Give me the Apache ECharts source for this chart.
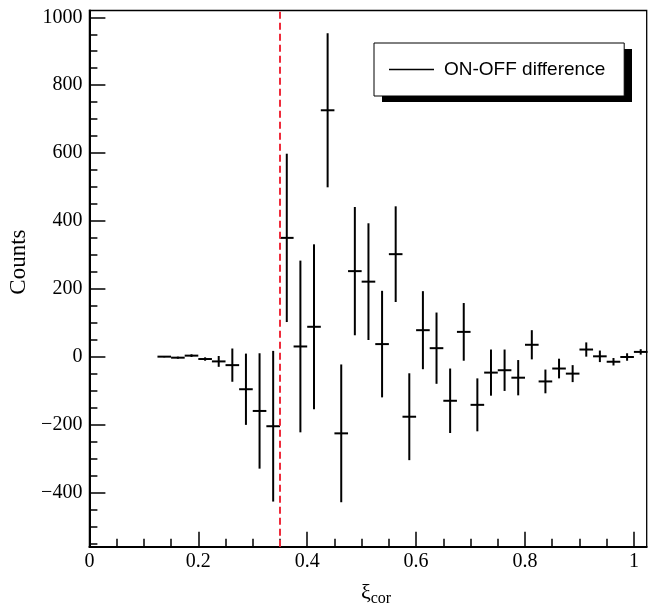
<!DOCTYPE html>
<html>
<head>
<meta charset="utf-8">
<script src="https://cdn.jsdelivr.net/npm/echarts@6/dist/echarts.min.js"></script>
<style>
  html, body { margin: 0; padding: 0; background: #fff; }
  #chart { width: 648px; height: 606px; }
</style>
</head>
<body>
<div id="chart"></div>
<script>
// bin centres (xi_cor), ON-OFF counts and their errors
const binCenters = [0.1375, 0.1625, 0.1875, 0.2125, 0.2375, 0.2625, 0.2875, 0.3125, 0.3375,
  0.3625, 0.3875, 0.4125, 0.4375, 0.4625, 0.4875, 0.5125, 0.5375, 0.5625, 0.5875, 0.6125,
  0.6375, 0.6625, 0.6875, 0.7125, 0.7375, 0.7625, 0.7875, 0.8125, 0.8375, 0.8625, 0.8875,
  0.9125, 0.9375, 0.9625, 0.9875, 1.0125]
const counts = [0, -3, 3, -7, -14, -25, -96, -160, -205, 350, 30, 88, 726, -226, 252, 221,
  37, 302, -177, 78, 25, -130, 73, -142, -47, -40, -62, 35, -73, -35, -50, 21, 1, -15, -1, 14]
const errors = [2, 3, 4, 5, 16, 49, 105, 170, 222, 248, 253, 243, 227, 203, 189, 172, 157,
  141, 128, 115, 105, 95, 85, 78, 68, 61, 52, 43, 35, 29, 25, 21, 17, 11, 11, 8]
const binWidth = 0.025
const cutValue = 0.35

const xTicks = [0, 0.2, 0.4, 0.6, 0.8, 1]
const xMinorTicks = [0.05, 0.1, 0.15, 0.25, 0.3, 0.35, 0.45, 0.5, 0.55, 0.65, 0.7, 0.75,
  0.85, 0.9, 0.95]
const yTicks = [-400, -200, 0, 200, 400, 600, 800, 1000]
const yMinorTicks = [-550, -500, -450, -350, -300, -250, -150, -100, -50, 50, 100, 150,
  250, 300, 350, 450, 500, 550, 650, 700, 750, 850, 900, 950]

const seriesName = 'ON-OFF difference'
const serif = 'Liberation Serif'

const chart = echarts.init(document.getElementById('chart'))

function renderErrorBar (params, api) {
  const x = api.value(0)
  const y = api.value(1)
  const e = api.value(2)
  const left = api.coord([x - binWidth / 2, y])
  const right = api.coord([x + binWidth / 2, y])
  const top = api.coord([x, y + e])
  const bottom = api.coord([x, y - e])
  const style = { stroke: '#000', lineWidth: 2 }
  return {
    type: 'group',
    children: [
      { type: 'line', shape: { x1: left[0], y1: left[1], x2: right[0], y2: right[1] }, style: style },
      { type: 'line', shape: { x1: top[0], y1: top[1], x2: bottom[0], y2: bottom[1] }, style: style }
    ]
  }
}

function minusSign (v) {
  return String(v).replace('-', '\u2212')
}

const option = {
  animation: false,
  backgroundColor: '#fff',
  grid: {
    left: 89.4,
    right: 1.3,
    top: 10.5,
    bottom: 59.3,
    outerBoundsMode: 'none',
    containLabel: false,
    show: true,
    borderColor: '#000',
    borderWidth: 1.3,
    backgroundColor: 'transparent'
  },
  // legend box shadow (ROOT style)
  graphic: [
    {
      type: 'rect',
      left: 382,
      top: 49,
      z: 1,
      silent: true,
      shape: { width: 250, height: 53 },
      style: { fill: '#000' }
    }
  ],
  legend: {
    left: 374,
    top: 43,
    z: 5,
    selectedMode: false,
    data: [{ name: seriesName, icon: 'rect' }],
    itemWidth: 45,
    itemHeight: 1.5,
    padding: [17, 19, 17, 15],
    backgroundColor: '#fff',
    borderColor: '#000',
    borderWidth: 1,
    textStyle: {
      fontFamily: 'Liberation Sans',
      fontSize: 19,
      color: '#000',
      padding: [0, 0, 0, 5]
    }
  },
  xAxis: [
    {
      type: 'value',
      min: 0,
      max: 1.0235,
      position: 'bottom',
      name: '{a|ξ}{b|cor}',
      nameLocation: 'middle',
      nameGap: 15,
      nameTextStyle: {
        padding: [0, 0, 0, 16],
        rich: {
          a: { fontFamily: serif, fontSize: 22, lineHeight: 24, verticalAlign: 'top', color: '#000' },
          b: { fontFamily: serif, fontSize: 16, lineHeight: 16, verticalAlign: 'bottom', padding: [14, 0, 0, 0], color: '#000' }
        }
      },
      axisLine: { show: true, onZero: false, lineStyle: { color: '#000', width: 2 } },
      axisTick: { show: true, inside: true, length: 15, customValues: xTicks, lineStyle: { color: '#000', width: 1.5 } },
      axisLabel: { customValues: xTicks, color: '#000', fontFamily: serif, fontSize: 20, margin: 5 },
      splitLine: { show: false }
    },
    {
      type: 'value',
      min: 0,
      max: 1.0235,
      position: 'bottom',
      axisLine: { show: false, onZero: false },
      axisTick: { show: true, inside: true, length: 8, customValues: xMinorTicks, lineStyle: { color: '#000', width: 1.5 } },
      axisLabel: { show: false },
      splitLine: { show: false }
    }
  ],
  yAxis: [
    {
      type: 'value',
      min: -560,
      max: 1020,
      position: 'left',
      name: 'Counts',
      nameLocation: 'middle',
      nameGap: 58,
      nameTextStyle: { fontFamily: serif, fontSize: 23, color: '#000', padding: [0, 0, 0, 33] },
      axisLine: { show: true, onZero: false, lineStyle: { color: '#000', width: 2 } },
      axisTick: { show: true, inside: true, length: 16, customValues: yTicks, lineStyle: { color: '#000', width: 1.5 } },
      axisLabel: { customValues: yTicks, color: '#000', fontFamily: serif, fontSize: 20, margin: 7, formatter: minusSign },
      splitLine: { show: false }
    },
    {
      type: 'value',
      min: -560,
      max: 1020,
      position: 'left',
      axisLine: { show: false, onZero: false },
      axisTick: { show: true, inside: true, length: 8, customValues: yMinorTicks, lineStyle: { color: '#000', width: 1.5 } },
      axisLabel: { show: false },
      splitLine: { show: false }
    }
  ],
  series: [
    {
      name: seriesName,
      type: 'custom',
      xAxisIndex: 0,
      yAxisIndex: 0,
      renderItem: renderErrorBar,
      itemStyle: { color: '#000' },
      encode: { x: 0, y: 1 },
      data: binCenters.map((x, i) => [x, counts[i], errors[i]]),
      z: 3
    },
    {
      name: 'cut',
      type: 'line',
      xAxisIndex: 0,
      yAxisIndex: 0,
      data: [],
      markLine: {
        silent: true,
        symbol: 'none',
        label: { show: false },
        lineStyle: { color: '#ee2b3b', type: [7, 4], width: 2 },
        data: [{ xAxis: cutValue }]
      },
      z: 2
    }
  ]
}

chart.setOption(option)
</script>
</body>
</html>
